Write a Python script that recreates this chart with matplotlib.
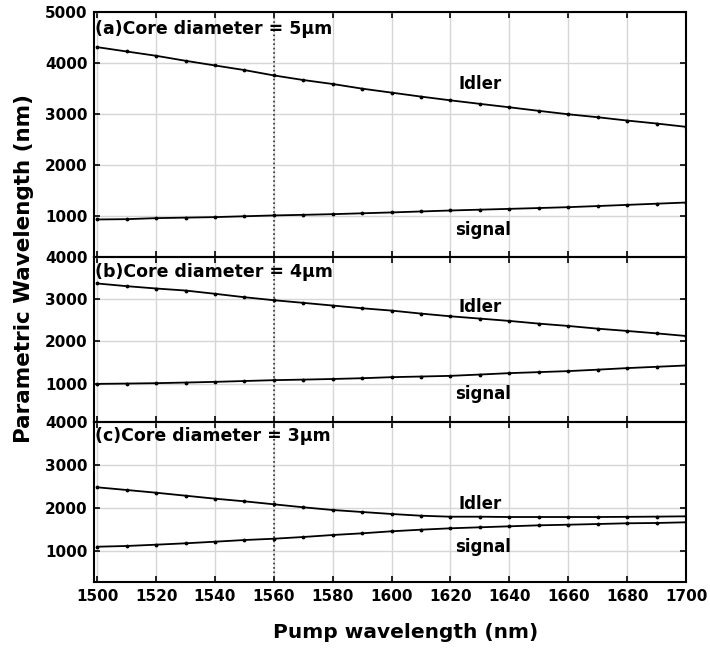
import matplotlib
matplotlib.use('Agg')
from matplotlib import pyplot as plt
import numpy as np

pump = np.arange(1500, 1701, 10)

# core diameter 5 um
idler_5 = [4305, 4220, 4136, 4038, 3946, 3856, 3751, 3661, 3583, 3492, 3414,
           3336, 3263, 3194, 3127, 3057, 2990, 2932, 2867, 2809, 2744]
signal_5 = [929, 935, 955, 965, 975, 992, 1008, 1020, 1033, 1050, 1067,
            1086, 1105, 1121, 1137, 1153, 1170, 1192, 1215, 1238, 1261]

# core diameter 4 um
idler_4 = [3367, 3303, 3248, 3200, 3123, 3042, 2971, 2909, 2845, 2781, 2726,
           2655, 2591, 2537, 2482, 2418, 2363, 2299, 2245, 2188, 2126]
signal_4 = [994, 1002, 1011, 1026, 1042, 1062, 1082, 1095, 1110, 1128, 1153,
            1168, 1184, 1215, 1248, 1272, 1296, 1330, 1367, 1398, 1429]

# core diameter 3 um
idler_3 = [2483, 2421, 2358, 2289, 2220, 2159, 2090, 2021, 1958, 1912, 1866,
           1826, 1803, 1803, 1796, 1796, 1796, 1796, 1800, 1805, 1812]
signal_3 = [1109, 1126, 1156, 1188, 1225, 1264, 1294, 1334, 1380, 1419, 1466,
            1503, 1535, 1558, 1581, 1604, 1618, 1634, 1651, 1658, 1674]

panels = ['(a)Core diameter = 5\u03bcm', '(b)Core diameter = 4\u03bcm',
          '(c)Core diameter = 3\u03bcm']
ylims = [(200, 5000), (100, 4000), (300, 4000)]
yticks = [[1000, 2000, 3000, 4000, 5000], [1000, 2000, 3000, 4000],
          [1000, 2000, 3000, 4000]]
idler_txt = [3584, 2814, 2097]
signal_txt = [723, 757, 1096]

plt.rcParams['font.family'] = 'DejaVu Sans'
plt.rcParams['font.weight'] = 'bold'

fig = plt.figure(figsize=(7.10, 6.49), dpi=100)
boxes = [[0.1328, 0.6045, 0.8334, 0.3775],
         [0.1328, 0.3502, 0.8334, 0.2543],
         [0.1328, 0.1037, 0.8334, 0.2465]]

series = [(idler_5, signal_5), (idler_4, signal_4), (idler_3, signal_3)]
for i, (box, (idl, sig)) in enumerate(zip(boxes, series)):
    ax = fig.add_axes(box)
    ax.plot(pump, idl, color='black', lw=1.3, marker='.', ms=3.5, zorder=3)
    ax.plot(pump, sig, color='black', lw=1.3, marker='.', ms=3.5, zorder=3)
    # pump line at 1560 nm
    ax.axvline(1560, color='#333333', ls=':', lw=1.2, zorder=2)
    ax.set_xlim(1499, 1700)
    ax.set_ylim(*ylims[i])
    ax.set_xticks(np.arange(1500, 1701, 20))
    ax.set_yticks(yticks[i])
    ax.grid(True, color='#d6d6d6', lw=1)
    ax.set_axisbelow(True)
    ax.tick_params(direction='in', top=True, right=True, length=4, width=1.2,
                   labelsize=11, pad=5)
    for s in ax.spines.values():
        s.set_linewidth(1.5)
    if i < 2:
        ax.tick_params(labelbottom=False)
    ax.text(0.002, 0.93 if i == 0 else 0.91, panels[i], transform=ax.transAxes,
            ha='left', va='center', fontsize=12.5, fontweight='bold')
    ax.text(1630, idler_txt[i], 'Idler', ha='center', va='center',
            fontsize=12, fontweight='bold')
    ax.text(1631, signal_txt[i], 'signal', ha='center', va='center',
            fontsize=12, fontweight='bold')
    for lab in ax.get_xticklabels() + ax.get_yticklabels():
        lab.set_fontweight('bold')

fig.text(0.571, 0.025, 'Pump wavelength (nm)', ha='center', va='center',
         fontsize=14.5, fontweight='bold')
fig.text(0.034, 0.587, 'Parametric Wavelength (nm)', ha='center', va='center',
         rotation=90, fontsize=15.5, fontweight='bold')

fig.savefig('out.png', dpi=100)
